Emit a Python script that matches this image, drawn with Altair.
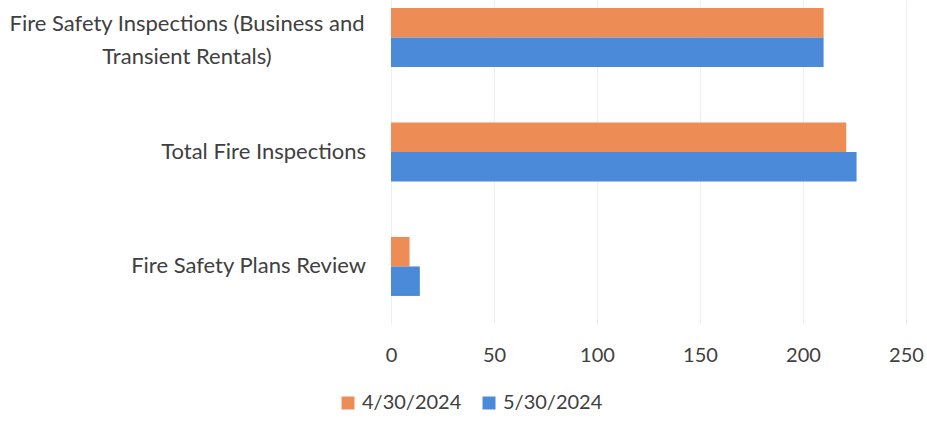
import altair as alt
import pandas as pd

categories = [
    "Fire Safety Inspections (Business and Transient Rentals)",
    "Total Fire Inspections",
    "Fire Safety Plans Review",
]
label_lines = [
    ["Fire Safety Inspections (Business and", "Transient Rentals)"],
    ["Total Fire Inspections"],
    ["Fire Safety Plans Review"],
]
series = ["4/30/2024", "5/30/2024"]
values_apr = [210, 221, 9]
values_may = [210, 226, 14]
colors = ["#EE8C56", "#4A8AD8"]

rows = []
for c, a, m in zip(categories, values_apr, values_may):
    rows.append({"category": c, "series": series[0], "value": a})
    rows.append({"category": c, "series": series[1], "value": m})
df = pd.DataFrame(rows)

lab = pd.DataFrame({"category": categories, "label": label_lines,
                    "multi": [len(l) > 1 for l in label_lines]})

FONT = "Lato"
TXT = "#404040"

yscale = alt.Scale(domain=categories, paddingInner=0.485, paddingOuter=0.157, align=0.22)

bars = alt.Chart(df).mark_bar().encode(
    x=alt.X("value:Q", scale=alt.Scale(domain=[0, 250]),
            axis=alt.Axis(values=[0, 50, 100, 150, 200, 250], title=None,
                          domain=False, ticks=False, grid=True, gridColor="#eeeeee",
                          labelFont=FONT, labelFontSize=20, labelColor=TXT,
                          labelPadding=21, labelFlush=False)),
    y=alt.Y("category:N", scale=yscale, axis=None),
    yOffset=alt.YOffset("series:N", scale=alt.Scale(domain=series, paddingInner=0, paddingOuter=0)),
    color=alt.Color("series:N", scale=alt.Scale(domain=series, range=colors),
                    legend=alt.Legend(title=None, orient="none", direction="horizontal",
                                      legendX=-53, legendY=393, symbolType="square",
                                      symbolSize=169, symbolStrokeWidth=0,
                                      labelFont=FONT, labelFontSize=20, labelColor=TXT,
                                      labelOffset=4, columnPadding=17)),
)

right_labels = alt.Chart(lab).transform_filter("!datum.multi").mark_text(
    align="right", baseline="middle", font=FONT, fontSize=22, color=TXT
).encode(y=alt.Y("category:N", scale=yscale, axis=None), x=alt.value(-25), text="label")

center_labels = alt.Chart(lab).transform_filter("datum.multi").mark_text(
    align="center", baseline="middle", font=FONT, fontSize=22, color=TXT, lineHeight=33, dy=-13
).encode(y=alt.Y("category:N", scale=yscale, axis=None), x=alt.value(-204), text="label")

chart = alt.layer(bars, right_labels, center_labels).properties(
    width=515, height=324,
    autosize=alt.AutoSizeParams(type="none"),
    padding={"left": 391, "top": 0, "right": 21, "bottom": 98},
).configure_view(stroke=None)

chart.save("out.html", embed_options={"renderer": "svg", "actions": False})
